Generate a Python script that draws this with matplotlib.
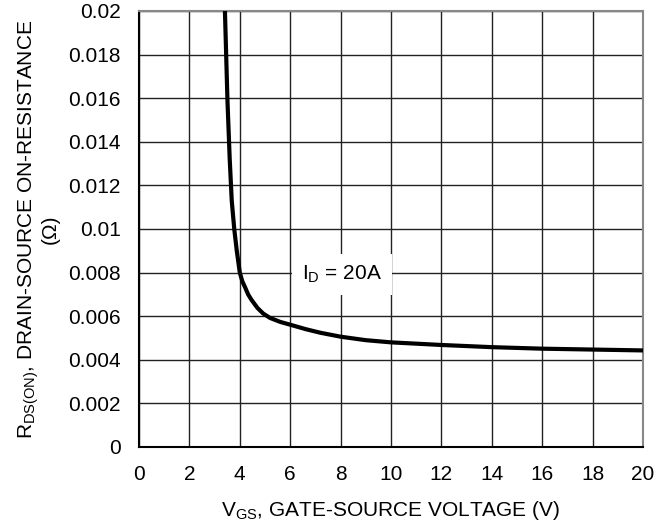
import matplotlib.pyplot as plt

plt.rcParams['font.family'] = ['Liberation Sans', 'DejaVu Sans']

# on-resistance vs gate-source voltage, I_D = 20 A
vgs = [3.41, 3.51, 3.6, 3.68, 3.78, 3.88, 4.0, 4.1, 4.2, 4.33, 4.47, 4.7, 4.93,
       5.2, 5.6, 6.0, 6.6, 7.2, 8.0, 9.0, 10.0, 12.0, 14.0, 16.0, 18.0, 20.0]
rds = [0.0200, 0.0159, 0.0132, 0.0113, 0.0100, 0.0090, 0.0080, 0.0076, 0.00735,
       0.0070, 0.00674, 0.00638, 0.00612, 0.00592, 0.00574, 0.00561, 0.00541,
       0.00524, 0.00506, 0.0049, 0.0048, 0.00468, 0.00458, 0.00451, 0.00447,
       0.00443]

x_ticks = list(range(0, 21, 2))
y_ticks = [0, 0.002, 0.004, 0.006, 0.008, 0.01, 0.012, 0.014, 0.016, 0.018, 0.02]
y_tick_labels = ['0', '0.002', '0.004', '0.006', '0.008', '0.01', '0.012',
                 '0.014', '0.016', '0.018', '0.02']

fs = 15

fig = plt.figure(figsize=(6.72, 5.29), dpi=100)
ax = fig.add_axes([139 / 672, 1 - 447 / 529, 504 / 672, 436 / 529])

ax.plot(vgs, rds, color='black', linewidth=3, solid_capstyle='butt',
        solid_joinstyle='round', zorder=3)

ax.set_xlim(0, 20)
ax.set_ylim(0, 0.02)
ax.set_xticks(x_ticks)
ax.set_yticks(y_ticks)
ax.set_yticklabels(y_tick_labels)
ax.tick_params(length=0, labelsize=fs, pad=13)
ax.grid(True, color='#222222', linewidth=1)

for side in ['top', 'right']:
    ax.spines[side].set_color('#888888')
    ax.spines[side].set_linewidth(1.5)
for side in ['left', 'bottom']:
    ax.spines[side].set_color('black')
    ax.spines[side].set_linewidth(1.5)

ax.text(8.05, 0.0079, '$\\mathregular{I_D}$ = 20A', fontsize=fs, ha='center', va='center',
        bbox=dict(facecolor='white', edgecolor='none', pad=7), zorder=4)

ax.set_xlabel('$\\mathregular{V_{GS}}$, GATE-SOURCE VOLTAGE (V)', fontsize=fs, labelpad=11)
ax.set_ylabel('$\\mathregular{R_{DS(ON)}}$, DRAIN-SOURCE ON-RESISTANCE\n(\u03a9)',
              fontsize=fs, labelpad=6, linespacing=1.0)

fig.savefig('out.png', dpi=100)
